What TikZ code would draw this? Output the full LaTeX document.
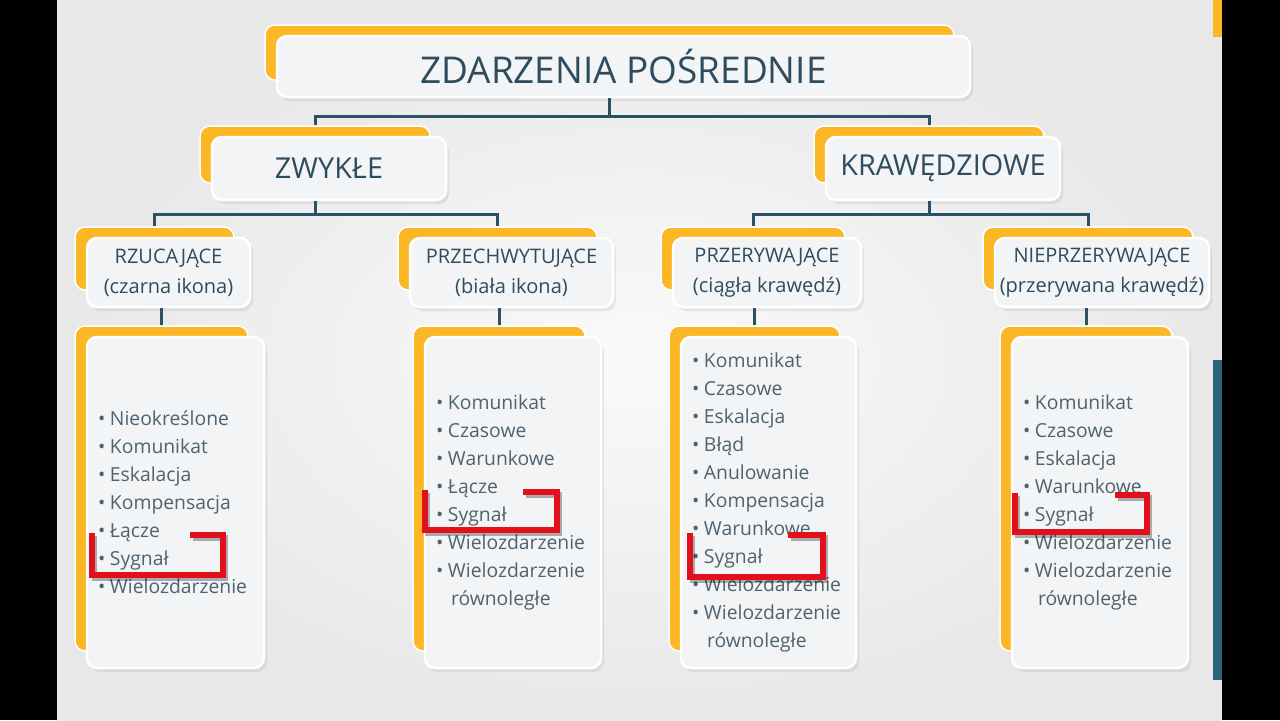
\documentclass[tikz,border=0pt]{standalone}
\usepackage{fontspec}
\setmainfont{Open Sans}
\usetikzlibrary{calc,shadows}

\definecolor{gold}{HTML}{FBB726}
\definecolor{ink}{HTML}{2E4C5F}
\definecolor{listink}{HTML}{4F6270}
\definecolor{linkblue}{HTML}{2B5166}
\definecolor{boxface}{HTML}{F3F4F5}
\definecolor{marker}{HTML}{E2101A}
\definecolor{tealbar}{HTML}{2B6478}

\tikzset{
  back/.style={fill=gold, draw=white, line width=0.15mm, rounded corners=1mm, inner sep=0pt},
  front/.style={fill=boxface, draw=white, line width=0.25mm, rounded corners=1mm,
    inner sep=0pt, text=ink,
    drop shadow={shadow xshift=0.3mm, shadow yshift=-0.4mm, opacity=0.15}},
  link/.style={draw=linkblue, line width=0.3mm},
  redmark/.style={draw=marker, line width=0.55mm, line join=miter,
    preaction={draw=black, opacity=0.3, line width=0.55mm,
      transform canvas={shift={(0.25mm,-0.3mm)}}}},
  toptext/.style={font=\fontsize{10.5}{12}\selectfont},
  midtext/.style={font=\fontsize{8.2}{10}\selectfont},
  subtext/.style={font=\fontsize{5.7}{8.5}\selectfont, align=center},
  listtext/.style={font=\fontsize{5.5}{7.97}\selectfont, align=left,
    text=listink, inner xsep=1.1mm},
}

% name, centre, width, height (px), options, text
\newcommand{\panel}[6]{%
  \coordinate (#1c) at #2;
  \node[back, minimum width=#3*0.1mm-0.4mm, minimum height=#4*0.1mm-0.6mm]
    (#1o) at ([shift={(-14,-14)}]#1c) {};
  \node[front, minimum width=#3*0.1mm, minimum height=#4*0.1mm, #5]
    (#1) at (#1c) {#6};}
\newcommand{\itm}[1]{\makebox[1.2mm][l]{\textbullet}#1}
\newcommand{\cont}[1]{\hspace*{1.5mm}#1}

\begin{document}
\begin{tikzpicture}[x=0.1mm, y=-0.1mm]
  \useasboundingbox (0,0) rectangle (1280,720);
  % frame
  \shade[inner color=gray!4, outer color=gray!18] (57,0) rectangle (1222,720);
  \fill[black] (0,0) rectangle (57,720);
  \fill[black] (1222,0) rectangle (1280,720);
  \fill[gold] (1213,0) rectangle (1222,37);
  \fill[tealbar] (1213,360) rectangle (1222,680);

  % boxes
  \panel{title}{(623.5,66.5)}{693}{61}{toptext}{ZDARZENIA POŚREDNIE}
  \panel{zw}{(329,168.5)}{234}{63}{midtext}{ZWYKŁE}
  \panel{kr}{(943,168.5)}{234}{63}{midtext}{KRAWĘDZIOWE}
  \panel{rz}{(168.5,272.5)}{163}{69}{subtext}{RZUCAJĄCE\\(czarna ikona)}
  \panel{pc}{(511.5,272.5)}{203}{69}{subtext}{PRZECHWYTUJĄCE\\(biała ikona)}
  \panel{pr}{(767,272.5)}{188}{69}{subtext}{PRZERYWAJĄCE\\(ciągła krawędź)}
  \panel{np}{(1102,272.5)}{214}{69}{subtext}{NIEPRZERYWAJĄCE\\(przerywana krawędź)}

  \panel{la}{(175.5,502.5)}{177}{331}{listtext, text width=15.5mm}{%
    \itm{Nieokreślone}\\ \itm{Komunikat}\\ \itm{Eskalacja}\\ \itm{Kompensacja}\\
    \itm{Łącze}\\ \itm{Sygnał}\\ \itm{Wielozdarzenie}}
  \panel{lb}{(513,502.5)}{176}{331}{listtext, text width=15.4mm}{%
    \itm{Komunikat}\\ \itm{Czasowe}\\ \itm{Warunkowe}\\ \itm{Łącze}\\
    \itm{Sygnał}\\ \itm{Wielozdarzenie}\\ \itm{Wielozdarzenie}\\ \cont{równoległe}}
  \panel{lc}{(768.5,502.5)}{175}{331}{listtext, text width=15.3mm}{%
    \itm{Komunikat}\\ \itm{Czasowe}\\ \itm{Eskalacja}\\ \itm{Błąd}\\
    \itm{Anulowanie}\\ \itm{Kompensacja}\\ \itm{Warunkowe}\\ \itm{Sygnał}\\
    \itm{Wielozdarzenie}\\ \itm{Wielozdarzenie}\\ \cont{równoległe}}
  \panel{ld}{(1100,502.5)}{176}{331}{listtext, text width=15.4mm}{%
    \itm{Komunikat}\\ \itm{Czasowe}\\ \itm{Eskalacja}\\ \itm{Warunkowe}\\
    \itm{Sygnał}\\ \itm{Wielozdarzenie}\\ \itm{Wielozdarzenie}\\ \cont{równoległe}}

  % connectors
  \draw[link] (titleo |- title.south) -- ++(0,18) -| (zwo.north);
  \draw[link] (titleo |- title.south) -- ++(0,18) -| (kro.north);
  \draw[link] (zwo |- zw.south) -- ++(0,13) -| (rzo.north);
  \draw[link] (zwo |- zw.south) -- ++(0,13) -| (pco.north);
  \draw[link] (kro |- kr.south) -- ++(0,13) -| (pro.north);
  \draw[link] (kro |- kr.south) -- ++(0,13) -| (npo.north);
  \draw[link] (lao.north |- rz.south) -- (lao.north);
  \draw[link] (lbo.north |- pc.south) -- (lbo.north);
  \draw[link] (lco.north |- pr.south) -- (lco.north);
  \draw[link] (ldo.north |- np.south) -- (ldo.north);

  % red marks
  \draw[redmark] (92,533) -- (92,575) -- (223,575) -- (223,535) -- (190,535);
  \draw[redmark] (425,490) -- (425,530) -- (557,530) -- (557,492) -- (523,492);
  \draw[redmark] (690,533) -- (690,577) -- (823,577) -- (823,535) -- (788,535);
  \draw[redmark] (1015,493) -- (1015,532) -- (1147,532) -- (1147,495) -- (1115,495);
\end{tikzpicture}
\end{document}
